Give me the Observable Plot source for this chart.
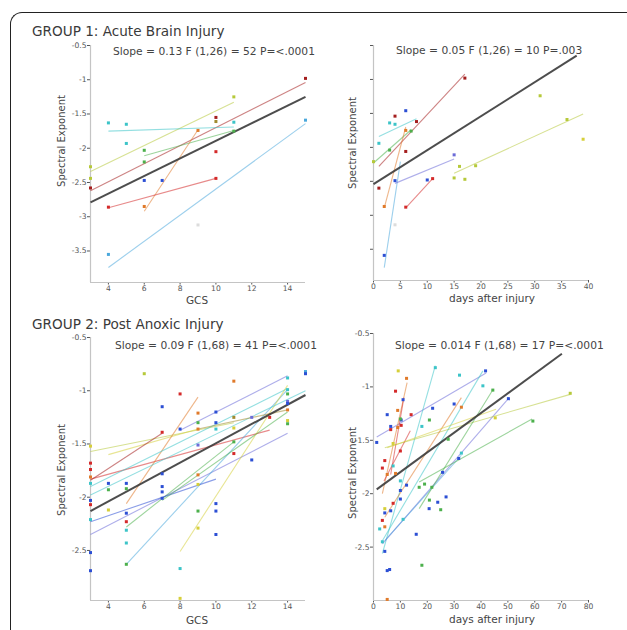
<!DOCTYPE html>
<html>
<head>
<meta charset="utf-8">
<script src="https://cdn.jsdelivr.net/npm/d3@7"></script>
<script src="https://cdn.jsdelivr.net/npm/@observablehq/plot@0.6"></script>
<style>
  html, body { margin: 0; padding: 0; background: #fff; overflow: hidden; }
  #wrap { position: relative; width: 627px; height: 630px; overflow: hidden; font-family: "DejaVu Sans", sans-serif; }
  .abs { position: absolute; white-space: nowrap; color: #333; }
  .frame { position: absolute; left: 10px; top: 12px; width: 700px; height: 700px;
           border-top: 1.5px solid #222; border-left: 1.5px solid #222; border-top-left-radius: 12px; }
  .title { font-size: 13.6px; color: #3a3a3a; }
  .stat { font-size: 10.7px; color: #444; }
  .axlab { font-size: 10.5px; color: #444; }
  .ylab { font-size: 10px; color: #444; transform: translate(-50%, -50%) rotate(-90deg); }
  .panel { position: absolute; }
</style>
</head>
<body>
<div id="wrap">
  <div class="frame"></div>
</div>
<script>
// ---------- data ----------
// subject colour palette (index used by the points/lines below)
const subjectColors = ["#a41e1e", "#2c4fd4", "#3cc4c8", "#b6c93a", "#4cb04c", "#e07a2a",
                       "#d42a2a", "#d6cf3a", "#4aa8dc", "#6c6cd8", "#a08a30", "#dcdcdc"];

// Group 1, GCS panel: [GCS, exponent, subject]
const g1GcsPoints = [[15,-0.98,0],[15,-1.59,8],[11,-1.25,3],[4,-1.63,2],[5,-1.65,2],[5,-1.93,2],
  [6,-2.03,4],[6,-2.2,4],[3,-2.27,3],[3,-2.44,3],[3,-2.58,0],[6,-2.47,1],[7,-2.47,1],[4,-2.86,6],
  [6,-2.85,5],[9,-1.74,5],[10,-1.55,0],[10,-1.61,10],[10,-2.05,6],[10,-2.44,6],[11,-1.62,2],
  [11,-1.75,4],[4,-3.55,8],[9,-3.12,11]];
// per-subject fits: [x1, y1, x2, y2, subject]
const g1GcsLines = [[3,-2.62,15,-1.04,0],[3,-2.34,11,-1.33,3],[4,-1.75,11,-1.69,2],[6,-2.11,11,-1.74,4],
  [6,-2.92,9,-1.73,5],[4,-2.87,10,-2.44,6],[4,-3.74,15,-1.64,8]];
const g1GcsFit = [[3,-2.79,15,-1.25]];

// Group 1, days panel: [days, exponent, subject]
const g1DayPoints = [[17,-0.98,0],[31,-1.24,3],[36,-1.59,3],[39,-1.88,7],[6,-1.46,1],[4,-1.54,0],
  [3,-1.64,2],[4,-1.66,2],[8,-1.62,0],[1,-1.94,2],[3,-2.04,4],[7,-1.76,4],[6,-1.75,5],[0,-2.21,3],
  [6,-2.06,0],[15,-2.11,9],[16,-2.28,3],[19,-2.27,3],[15,-2.45,3],[17,-2.47,3],[1,-2.6,0],
  [4,-2.49,1],[10,-2.48,1],[11,-2.46,6],[2,-2.87,5],[6,-2.88,6],[2,-3.59,1],[4,-3.14,11]];
const g1DayLines = [[1,-2.28,17,-0.92,0],[1,-1.84,8,-1.58,2],[0,-2.23,7,-1.74,4],[2,-2.89,6,-1.70,5],
  [2,-3.77,5,-2.21,8],[4,-2.53,15,-2.17,9],[6,-2.89,11,-2.46,6],[15,-2.38,39,-1.51,3]];
const g1DayFit = [[0,-2.54,37.8,-0.65]];

// Group 2, GCS panel
const g2GcsPoints = [[6,-0.84,3],[8,-1.03,6],[11,-0.91,5],[7,-1.15,1],[15,-0.82,8],[15,-0.84,1],
  [14,-0.88,2],[14,-0.99,2],[14,-1.03,4],[14,-1.10,9],[14,-1.12,1],[14,-1.18,5],[14,-1.28,7],
  [14,-1.31,4],[13,-1.25,6],[12,-1.25,9],[12,-1.65,1],[11,-1.25,10],[11,-1.35,7],[11,-1.48,4],
  [11,-1.59,6],[10,-1.2,1],[10,-1.3,1],[10,-1.36,2],[9,-1.21,5],[9,-1.3,4],[9,-1.36,5],[9,-1.51,9],
  [8,-1.36,1],[7,-1.39,6],[7,-1.78,1],[7,-1.9,1],[7,-1.95,1],[7,-2.01,1],[9,-1.79,5],[9,-1.88,7],
  [9,-2.13,4],[9,-2.29,7],[10,-2.06,1],[10,-2.13,1],[10,-2.35,1],[8,-2.67,2],[8,-2.95,7],
  [5,-1.87,1],[5,-1.92,4],[5,-2.15,1],[5,-2.23,6],[5,-2.31,2],[5,-2.43,2],[5,-2.63,4],
  [4,-1.87,1],[4,-1.93,4],[4,-2.12,7],[3,-1.52,7],[3,-1.68,6],[3,-1.74,6],[3,-1.81,5],
  [3,-1.87,2],[3,-2.03,1],[3,-2.07,6],[3,-2.21,2],[3,-2.52,1],[3,-2.69,1]];
const g2GcsLines = [[3,-1.57,11,-1.30,3],[4,-1.60,9,-1.36,7],[3,-1.83,13,-1.37,6],[3,-1.84,7,-1.40,0],
  [5,-2.06,9,-1.06,5],[3,-1.90,14,-0.98,2],[8,-1.37,14,-0.86,9],[3,-2.35,14,-1.40,9],
  [5,-2.63,14,-0.99,8],[8,-2.51,14,-0.95,7],[5,-2.28,11,-1.48,4],[3,-2.23,10,-1.83,1],
  [3,-1.98,15,-1.00,2],[9,-1.36,14,-1.18,10],[7,-2.03,14,-1.20,4]];
const g2GcsFit = [[3,-2.13,15,-1.04]];

// Group 2, days panel
const g2DayPoints = [[9.2,-0.85,7],[12.3,-0.92,5],[8.2,-1.04,6],[11,-1.12,1],[10.3,-1.31,1],
  [10.3,-1.36,6],[9,-1.38,5],[10,-1.3,4],[9,-1.22,5],[5.1,-1.26,1],[6.4,-1.37,1],[6.4,-1.4,6],
  [7.3,-1.53,7],[1.2,-1.52,1],[10,-1.6,6],[14,-1.26,6],[4.2,-1.69,6],[3.3,-1.76,6],[5.1,-1.82,5],
  [7.3,-1.74,2],[8.2,-1.81,5],[10,-1.88,2],[12.3,-1.92,1],[10,-1.97,1],[10,-2.05,1],[7.3,-2.09,6],
  [6.4,-2.16,1],[4.2,-2.14,7],[4.2,-2.18,1],[3.3,-2.25,6],[4.2,-2.31,5],[2.3,-2.33,2],[3.3,-2.45,2],
  [4.2,-2.54,1],[5.1,-2.72,1],[6,-2.71,1],[5.1,-2.99,5],[11,-2.24,2],[23,-0.82,2],[32,-0.89,2],
  [41.7,-0.85,1],[40.7,-0.99,2],[44.4,-1.03,4],[22,-1.2,1],[20.8,-1.31,4],[18,-1.37,2],[30,-1.16,1],
  [32.7,-1.19,5],[45.3,-1.29,7],[50.2,-1.11,1],[73.2,-1.06,3],[59.3,-1.32,4],[27.8,-1.49,4],
  [32.7,-1.62,2],[31.7,-1.67,1],[25.7,-1.80,1],[17,-1.94,4],[19,-1.91,4],[21.7,-1.94,4],
  [20.8,-2.06,4],[20.7,-2.14,1],[23.9,-2.08,1],[25,-2.15,4],[27,-2.03,1],[15.9,-2.38,1],[18,-2.67,4]];
const g2DayLines = [[1.2,-1.47,41.9,-0.87,9],[3.3,-2.56,23,-0.80,2],[3.3,-2.44,40.7,-0.85,2],
  [3.3,-2.47,50.5,-1.10,9],[4.2,-2.44,32.7,-1.64,8],[17,-1.89,59,-1.30,4],[4.2,-1.57,73.2,-1.07,3],
  [17,-2.14,44.6,-1.02,4],[4.2,-2.22,32.7,-1.10,5],[3.3,-2.00,12.5,-0.96,5],[3.9,-1.88,13.7,-1.41,6],
  [6.4,-1.82,11.3,-1.10,6],[5.1,-1.57,45.6,-1.21,7]];
const g2DayFit = [[1.2,-1.96,70.1,-0.69]];

// axes / ticks
const gcsTicks = [4, 6, 8, 10, 12, 14];
const g1DayTicks = [0, 5, 10, 15, 20, 25, 30, 35, 40];
const g2DayTicks = [0, 10, 20, 30, 40, 50, 60, 70, 80];
const g1ExpTicks = [-0.5, -1, -1.5, -2, -2.5, -3, -3.5];
const g2ExpTicks = [-0.5, -1, -1.5, -2, -2.5];

const texts = {
  title1: "GROUP 1: Acute Brain Injury",
  title2: "GROUP 2: Post Anoxic Injury",
  stat1: "Slope = 0.13 F (1,26) = 52 P=<.0001",
  stat2: "Slope = 0.05 F (1,26) = 10 P=.003",
  stat3: "Slope = 0.09 F (1,68) = 41 P=<.0001",
  stat4: "Slope = 0.014 F (1,68) = 17 P=<.0001",
  ylab: "Spectral Exponent",
  gcs: "GCS",
  days: "days after injury"
};

// ---------- drawing ----------
const wrap = document.getElementById("wrap");

function panel(cfg) {
  const [xd0] = cfg.xDomain, [yd0] = cfg.yDomain;
  const svg = Plot.plot({
    width: cfg.width, height: cfg.height,
    marginLeft: cfg.ml, marginRight: cfg.mr, marginTop: cfg.mt, marginBottom: cfg.mb,
    style: { fontFamily: "DejaVu Sans, sans-serif", fontSize: "7.6px", color: "#555", background: "transparent", overflow: "visible" },
    x: { domain: cfg.xDomain, ticks: cfg.xTicks, tickSize: 2.5, tickPadding: 1, label: null },
    y: { domain: cfg.yDomain, ticks: cfg.yTicks, tickSize: 3, tickPadding: 1, label: null,
         tickFormat: cfg.yLabels ? (d => d.toString()) : (() => "") },
    color: { type: "identity" },
    marks: [
      Plot.ruleX([xd0], { stroke: "#c4c4c4", strokeWidth: 1.2 }),
      Plot.ruleY([yd0], { stroke: "#c4c4c4", strokeWidth: 1.2 }),
      Plot.link(cfg.lines, { x1: d => d[0], y1: d => d[1], x2: d => d[2], y2: d => d[3],
        stroke: d => subjectColors[d[4]], strokeOpacity: 0.55, strokeWidth: 1.1 }),
      Plot.link(cfg.fit, { x1: d => d[0], y1: d => d[1], x2: d => d[2], y2: d => d[3],
        stroke: "#3a3a3a", strokeWidth: 2, strokeOpacity: 0.9 }),
      Plot.dot(cfg.points, { x: d => d[0], y: d => d[1], symbol: "square", r: 1.7,
        fill: d => subjectColors[d[2]], stroke: "none" })
    ]
  });
  svg.classList.add("panel");
  svg.style.left = cfg.left + "px";
  svg.style.top = cfg.top + "px";
  wrap.appendChild(svg);
}

function label(text, cls, x, y, anchor) {
  const el = document.createElement("div");
  el.className = "abs " + cls;
  el.textContent = text;
  el.style.left = x + "px";
  el.style.top = y + "px";
  if (anchor === "middle") el.style.transform = "translate(-50%, -50%)";
  else if (anchor === "left") el.style.transform = "translate(0, -50%)";
  wrap.appendChild(el);
}

// Panel 1: group 1, GCS
panel({ left: 30, top: 30, width: 290, height: 275, ml: 60, mr: 15, mt: 15, mb: 23,
  xDomain: [3, 15], yDomain: [-3.96, -0.5], xTicks: gcsTicks, yTicks: g1ExpTicks, yLabels: true,
  points: g1GcsPoints, lines: g1GcsLines, fit: g1GcsFit });
// Panel 2: group 1, days
panel({ left: 320, top: 30, width: 300, height: 275, ml: 53, mr: 32, mt: 15, mb: 25,
  xDomain: [0, 40], yDomain: [-3.96, -0.5], xTicks: g1DayTicks, yTicks: g1ExpTicks, yLabels: false,
  points: g1DayPoints, lines: g1DayLines, fit: g1DayFit });
// Panel 3: group 2, GCS
panel({ left: 30, top: 320, width: 290, height: 300, ml: 60, mr: 15, mt: 17, mb: 20,
  xDomain: [3, 15], yDomain: [-2.97, -0.5], xTicks: gcsTicks, yTicks: g2ExpTicks, yLabels: true,
  points: g2GcsPoints, lines: g2GcsLines, fit: g2GcsFit });
// Panel 4: group 2, days
panel({ left: 320, top: 320, width: 300, height: 300, ml: 53, mr: 32, mt: 13, mb: 20,
  xDomain: [0, 80], yDomain: [-3, -0.5], xTicks: g2DayTicks, yTicks: g2ExpTicks, yLabels: true,
  points: g2DayPoints, lines: g2DayLines, fit: g2DayFit });

// titles and texts
label(texts.title1, "title", 32, 31, "left");
label(texts.title2, "title", 32, 324, "left");
label(texts.stat1, "stat", 113, 51, "left");
label(texts.stat2, "stat", 396, 50, "left");
label(texts.stat3, "stat", 115, 345, "left");
label(texts.stat4, "stat", 395, 345, "left");
label(texts.gcs, "axlab", 197, 300, "middle");
label(texts.gcs, "axlab", 197, 620, "middle");
label(texts.days, "axlab", 492, 298, "middle");
label(texts.days, "axlab", 492, 619, "middle");
for (const [x, y] of [[61, 141], [352, 143], [61, 470], [352, 473]]) {
  const el = document.createElement("div");
  el.className = "abs ylab";
  el.textContent = texts.ylab;
  el.style.left = x + "px";
  el.style.top = y + "px";
  wrap.appendChild(el);
}
</script>
</body>
</html>
